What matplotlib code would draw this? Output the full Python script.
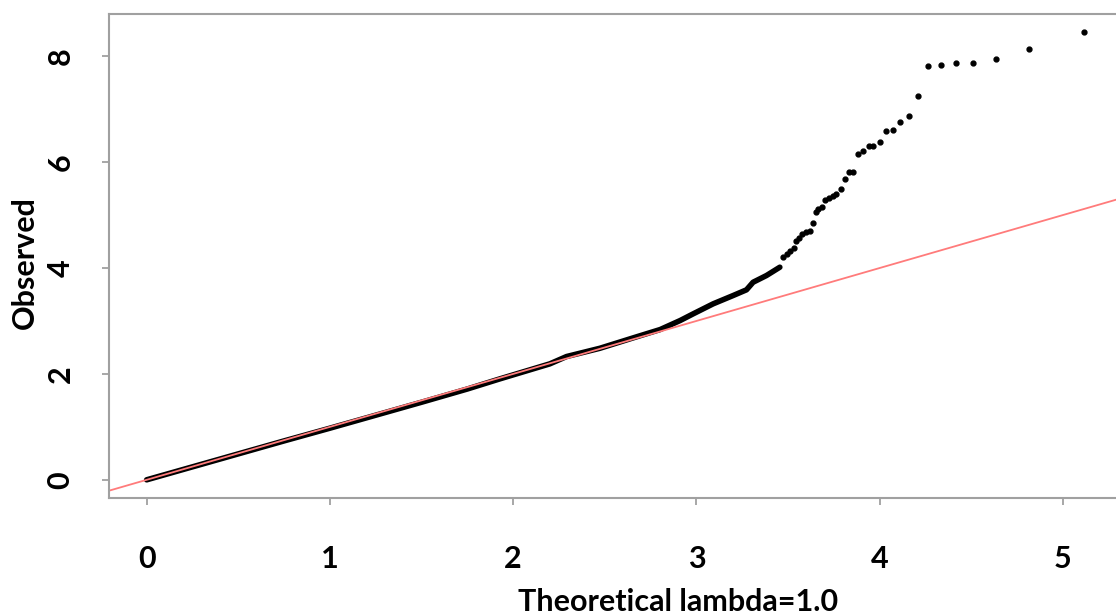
import matplotlib
matplotlib.use("Agg")
import matplotlib.pyplot as plt

# dense part of the QQ curve (reads as one thick line)
body_x = [0.0, 0.25, 0.5, 0.75, 1.0, 1.25, 1.5, 1.75, 1.927, 2.2, 2.291, 2.473,
          2.655, 2.802, 2.911, 2.982, 3.091, 3.2, 3.273, 3.309, 3.382, 3.455]
body_y = [0.0, 0.245, 0.49, 0.735, 0.975, 1.22, 1.465, 1.715, 1.906, 2.19, 2.328, 2.484,
          2.681, 2.838, 3.008, 3.134, 3.323, 3.48, 3.588, 3.731, 3.858, 4.015]

# sparse upper tail, individual points
tail_x = [3.473, 3.492, 3.51, 3.532, 3.544, 3.559, 3.577, 3.595, 3.617, 3.635,
          3.65, 3.664, 3.683, 3.704, 3.724, 3.746, 3.764, 3.789, 3.811, 3.835,
          3.855, 3.882, 3.908, 3.94, 3.966, 3.999, 4.035, 4.07, 4.111, 4.159,
          4.209, 4.266, 4.335, 4.414, 4.51, 4.635, 4.812, 5.114]
tail_y = [4.204, 4.268, 4.317, 4.381, 4.506, 4.57, 4.646, 4.689, 4.708, 4.854,
          5.061, 5.105, 5.148, 5.281, 5.326, 5.369, 5.401, 5.488, 5.685, 5.804,
          5.804, 6.15, 6.206, 6.308, 6.295, 6.384, 6.579, 6.611, 6.754, 6.868,
          7.253, 7.807, 7.839, 7.864, 7.877, 7.952, 8.133, 8.455]

xticks = [0, 1, 2, 3, 4, 5]
yticks = [0, 2, 4, 6, 8]

fnt = "Lato"
fsize = 22
grey = "#a0a0a0"

fig = plt.figure(figsize=(11.16, 6.15), dpi=100)
ax = fig.add_axes([0.0979, 0.1907, 0.9065, 0.7865])

ax.plot(body_x, body_y, color="black", linewidth=4, solid_capstyle="round")
ax.plot(tail_x, tail_y, "o", color="black", markersize=3.5)

ax.set_xlim(-0.204, 5.316)
ax.set_ylim(-0.338, 8.796)
ax.axline((0, 0), slope=1, color="#ff7b7b", linewidth=1.3)

for s in ax.spines.values():
    s.set_color(grey)
    s.set_linewidth(1.5)

ax.set_xticks(xticks)
ax.set_yticks(yticks)
ax.tick_params(axis="both", direction="out", length=5, width=1.3, color=grey)
ax.tick_params(axis="x", pad=29)
ax.tick_params(axis="y", pad=20)
for lab in ax.get_xticklabels() + ax.get_yticklabels():
    lab.set_fontfamily(fnt)
    lab.set_fontweight("bold")
    lab.set_fontsize(fsize)
for lab in ax.get_yticklabels():
    lab.set_rotation(90)
    lab.set_va("center")

fig.text(678 / 1116, 1 - 611 / 615, "Theoretical lambda=1.0", ha="center", va="baseline",
         fontfamily=fnt, fontweight="bold", fontsize=fsize)
fig.text(25 / 1116, 1 - 263 / 615, "Observed", ha="center", va="center", rotation=90,
         fontfamily=fnt, fontweight="bold", fontsize=fsize)

fig.savefig("out.png", dpi=100)
